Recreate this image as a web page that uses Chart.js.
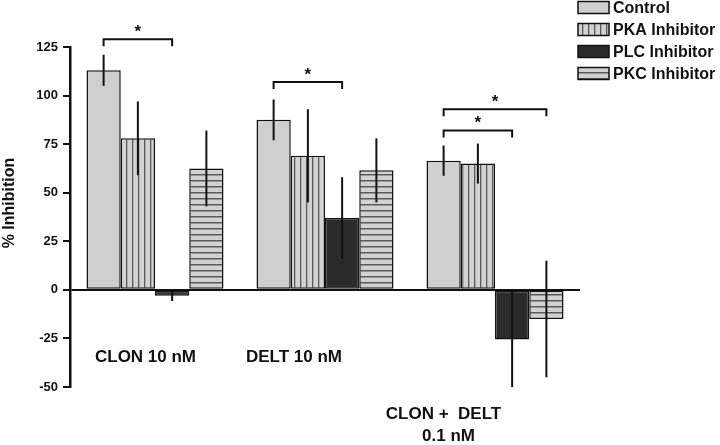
<!DOCTYPE html>
<html>
<head>
<meta charset="utf-8">
<script src="https://cdn.jsdelivr.net/npm/chart.js@4/dist/chart.umd.min.js"></script>
<style>
  body { margin: 0; background: #fff; }
  #wrap { width: 720px; height: 445px; }
</style>
</head>
<body>
<div id="wrap"><canvas id="chart" width="720" height="445"></canvas></div>
<script>
// categories (x groups), one label line per entry
var categories = [['CLON 10 nM'], ['DELT 10 nM'], ['CLON +  DELT', '0.1 nM']];
var seriesNames = ['Control', 'PKA Inhibitor', 'PLC Inhibitor', 'PKC Inhibitor'];

// % inhibition values per series
var controlVals = [113, 87.5, 66.5];
var pkaVals = [78, 69, 65];
var plcVals = [-3, 37, -25.5];
var pkcVals = [62.5, 61.5, -15];

// error bar half lengths
var controlErr = [8, 10.5, 7.8];
var pkaErr = [19, 24, 10.3];
var plcErr = [2.7, 21, 24.5];
var pkcErr = [19.5, 16.5, 30];

// y axis ticks
var yMin = -50;
var yMax = 125;
var yStep = 25;

// significance brackets: [category, from series, to series, y value]
var brackets = [
  [0, 0, 2, 129],
  [1, 0, 2, 107],
  [2, 0, 3, 93],
  [2, 0, 2, 82]
];

var INK = '#111';

function stripePattern(vertical) {
  var c = document.createElement('canvas');
  c.width = 6; c.height = 6;
  var g = c.getContext('2d');
  g.fillStyle = '#d2d2d2';
  g.fillRect(0, 0, 6, 6);
  g.fillStyle = '#5a5a5a';
  if (vertical) g.fillRect(0, 0, 1.3, 6);
  else g.fillRect(0, 0, 6, 1.5);
  return g.createPattern(c, 'repeat');
}

var ctx = document.getElementById('chart').getContext('2d');
var fills = ['#cfcfcf', stripePattern(true), '#2b2b2b', stripePattern(false)];
var allVals = [controlVals, pkaVals, plcVals, pkcVals];
var allErr = [controlErr, pkaErr, plcErr, pkcErr];

var datasets = seriesNames.map(function (name, i) {
  return {
    label: name,
    data: allVals[i],
    errors: allErr[i],
    backgroundColor: fills[i],
    borderColor: INK,
    borderWidth: 1.5,
    borderSkipped: false,
    categoryPercentage: 0.806,
    barPercentage: 1.0
  };
});

var extras = {
  id: 'extras',
  afterDatasetsDraw: function (chart) {
    var c = chart.ctx;
    var ys = chart.scales.y;
    c.save();
    // error bars
    c.strokeStyle = INK;
    c.lineWidth = 2;
    chart.data.datasets.forEach(function (ds, di) {
      var meta = chart.getDatasetMeta(di);
      meta.data.forEach(function (bar, i) {
        var v = ds.data[i], e = ds.errors[i];
        c.beginPath();
        c.moveTo(bar.x, ys.getPixelForValue(v + e));
        c.lineTo(bar.x, ys.getPixelForValue(v - e));
        c.stroke();
      });
    });
    // brackets with stars
    c.fillStyle = INK;
    c.font = 'bold 17px "Liberation Sans", Arial, sans-serif';
    c.textAlign = 'center';
    c.textBaseline = 'middle';
    brackets.forEach(function (b) {
      var x1 = chart.getDatasetMeta(b[1]).data[b[0]].x;
      var x2 = chart.getDatasetMeta(b[2]).data[b[0]].x;
      var y = ys.getPixelForValue(b[3]);
      c.beginPath();
      c.moveTo(x1, y + 7);
      c.lineTo(x1, y);
      c.lineTo(x2, y);
      c.lineTo(x2, y + 7);
      c.stroke();
      c.fillText('*', (x1 + x2) / 2, y - 7);
    });
    c.restore();
  },
  afterDraw: function (chart) {
    var c = chart.ctx;
    var xs = chart.scales.x, ys = chart.scales.y;
    c.save();
    c.fillStyle = INK;
    // category labels
    var labelShift = [-9.5, -31, -51.5];
    var labelVal = [-34.5, -34.5, -64];
    c.font = 'bold 17px "Liberation Sans", Arial, sans-serif';
    c.textAlign = 'center';
    c.textBaseline = 'middle';
    categories.forEach(function (lines, i) {
      var x = xs.getPixelForValue(i) + labelShift[i];
      var y = ys.getPixelForValue(labelVal[i]);
      lines.forEach(function (t, k) {
        c.fillText(t, x + (k ? 5 : 0), y + k * 22);
      });
    });
    // y axis title
    c.save();
    c.translate(10, 203);
    c.rotate(-Math.PI / 2);
    c.font = 'bold 16px "Liberation Sans", Arial, sans-serif';
    c.fillText('% Inhibition', 0, 0);
    c.restore();
    // legend
    c.textAlign = 'left';
    c.font = 'bold 16px "Liberation Sans", Arial, sans-serif';
    chart.data.datasets.forEach(function (ds, i) {
      var top = 1.5 + i * 22;
      c.fillStyle = ds.backgroundColor;
      c.fillRect(578, top, 31, 12);
      c.strokeStyle = INK;
      c.lineWidth = 1.5;
      c.strokeRect(578, top, 31, 12);
      c.fillStyle = INK;
      c.fillText(ds.label, 613, top + 7);
    });
    c.restore();
  }
};

new Chart(ctx, {
  type: 'bar',
  data: { labels: categories.map(function (l) { return l.join(' '); }), datasets: datasets },
  options: {
    responsive: false,
    animation: false,
    layout: { padding: { left: 0, top: 47, right: 140, bottom: 58 } },
    plugins: { legend: { display: false }, tooltip: { enabled: false } },
    scales: {
      x: { display: false },
      y: {
        min: yMin,
        max: yMax,
        afterFit: function (s) { s.width = 70; },
        ticks: {
          stepSize: yStep,
          color: INK,
          padding: 5,
          font: { family: '"Liberation Sans", Arial, sans-serif', size: 13, weight: 'bold' }
        },
        grid: {
          color: function (c) { return c.tick && c.tick.value === 0 ? INK : 'rgba(0,0,0,0)'; },
          lineWidth: 2,
          tickColor: INK,
          tickWidth: 2,
          tickLength: 7
        },
        border: { display: true, color: INK, width: 2.5 }
      }
    }
  },
  plugins: [extras]
});
</script>
</body>
</html>
